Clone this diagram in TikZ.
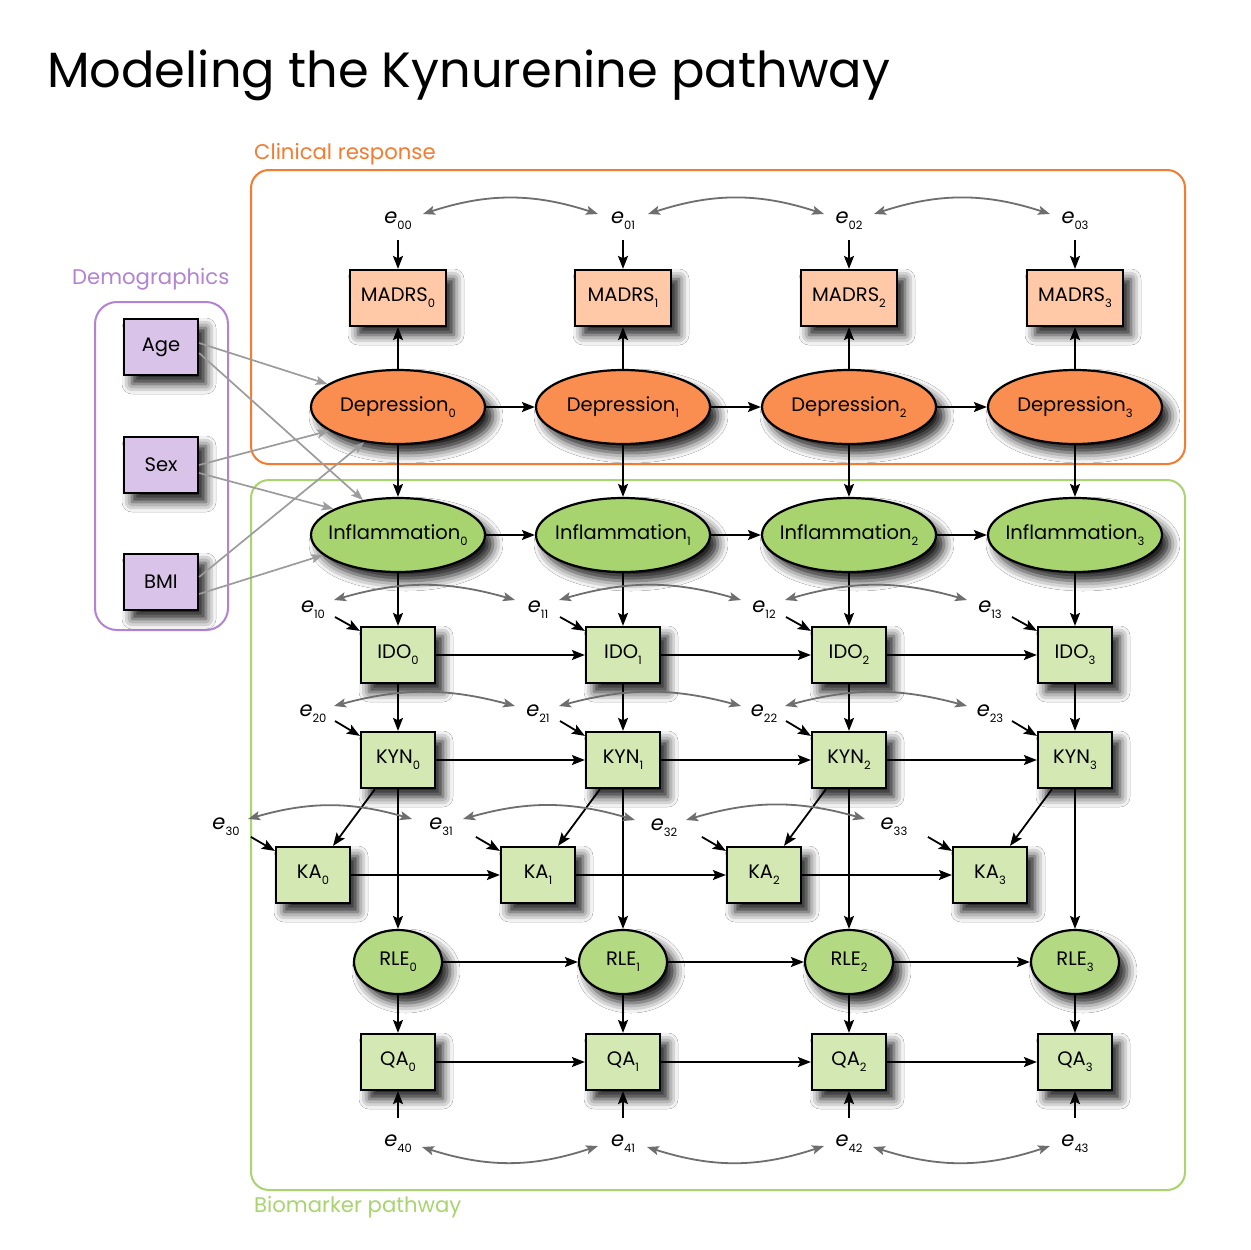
\documentclass[tikz,border=0pt]{standalone}
\usepackage{fontspec}
\setmainfont{Poppins}
\usetikzlibrary{shapes.geometric,shadows.blur,arrows.meta,calc}
\definecolor{madrsc}{HTML}{FFC8A6}
\definecolor{depc}{HTML}{FA8E50}
\definecolor{inflc}{HTML}{A8D46F}
\definecolor{rlec}{HTML}{B3D983}
\definecolor{bioc}{HTML}{D4E8B4}
\definecolor{democ}{HTML}{D9C3E9}
\definecolor{clinc}{HTML}{F47B2F}
\definecolor{biomc}{HTML}{A9D46F}
\definecolor{demfc}{HTML}{B283D3}
\definecolor{arcgray}{HTML}{6E6E6E}
\definecolor{demgray}{HTML}{9C9C9C}
\newcommand{\lsub}[1]{\raisebox{-0.55ex}{\fontsize{11.5}{11.5}\selectfont #1}}
\newcommand{\errl}[1]{{\fontsize{21}{21}\selectfont\textit{e}}\lsub{#1}}
\begin{document}
\begin{tikzpicture}[x=1pt,y=1pt,
  arr/.style={-{Stealth[length=13pt,width=10pt,inset=2.5pt]}, line width=1.8pt},
  garr/.style={{Stealth[length=12pt,width=9pt,inset=2.5pt]}-{Stealth[length=12pt,width=9pt,inset=2.5pt]}, line width=1.8pt, draw=arcgray},
  darr/.style={-{Stealth[length=12pt,width=9pt,inset=2.5pt]}, line width=1.7pt, draw=demgray},
  shad/.style={blur shadow={shadow xshift=8pt,shadow yshift=-9pt,shadow blur radius=10pt,shadow opacity=90}},
  sq/.style={rectangle, draw, line width=2.2pt, minimum width=74pt, minimum height=56pt, inner sep=0pt, shad, font=\fontsize{19.5}{19.5}\selectfont},
  madrs/.style={sq, minimum width=96pt, fill=madrsc},
  bio/.style={sq, fill=bioc},
  demo/.style={sq, fill=democ},
  ell/.style={ellipse, draw, line width=2.2pt, inner sep=0pt, shad, font=\fontsize{19.5}{19.5}\selectfont},
  dep/.style={ell, minimum width=174pt, minimum height=74pt, fill=depc},
  infl/.style={ell, minimum width=174pt, minimum height=74pt, fill=inflc},
  rle/.style={ell, minimum width=88pt, minimum height=64pt, fill=rlec},
  elab/.style={inner sep=0pt, font=\fontsize{19}{19}\selectfont},
  grplab/.style={anchor=base west, inner sep=0pt, font=\fontsize{21.2}{21.2}\selectfont}
]
\useasboundingbox (0,0) rectangle (1251,-1250);
\fill[white] (0,0) rectangle (1251,-1250);

% title
\node[anchor=base west, inner sep=0pt, font=\fontsize{49.5}{49.5}\selectfont] (title) at (47,-87) {Modeling the Kynurenine pathway};

% group frames
\draw[clinc, line width=2pt, rounded corners=18pt] (251,-170) rectangle (1185,-464);
\draw[biomc, line width=2pt, rounded corners=18pt] (251,-480) rectangle (1185,-1190);
\draw[demfc, line width=2pt, rounded corners=22pt] (95,-302) rectangle (228,-630);
\node[grplab, text=clinc] (lclin) at (254,-159) {Clinical response};
\node[grplab, text=biomc] (lbiom) at (254,-1212) {Biomarker pathway};
\node[grplab, text=demfc] (ldemo) at (72,-284) {Demographics};

% demographics
\node[demo] (Age) at (161,-347) {Age};
\node[demo] (Sex) at (161,-465) {Sex};
\node[demo] (BMI) at (161,-582) {BMI};

% main nodes
\foreach \i/\x/\k in {0/398/313,1/623/538,2/849/764,3/1075/990}{
  \node[madrs] (M\i) at (\x,-298) {MADRS\lsub{\i}};
  \node[dep] (D\i) at (\x,-407) {\makebox[0pt]{Depression\lsub{\i}}};
  \node[infl] (I\i) at (\x,-535) {\makebox[0pt]{Inflammation\lsub{\i}}};
  \node[bio] (IDO\i) at (\x,-655) {IDO\lsub{\i}};
  \node[bio] (KYN\i) at (\x,-760) {KYN\lsub{\i}};
  \node[bio] (KA\i) at (\k,-875) {KA\lsub{\i}};
  \node[rle] (R\i) at (\x,-962) {\makebox[0pt]{RLE\lsub{\i}}};
  \node[bio] (Q\i) at (\x,-1062) {QA\lsub{\i}};
  % error labels
  \node[elab] (e0\i) at (\x,-221) {\errl{0\i}};
  \node[elab] (e1\i) at (\x-85,-610) {\errl{1\i}};
  \node[elab] (e2\i) at (\x-85,-714) {\errl{2\i}};
  \node[elab] (e4\i) at (\x,-1144) {\errl{4\i}};
}
\node[elab] (e30) at (226,-827) {\errl{30}};
\node[elab] (e31) at (441,-827) {\errl{31}};
\node[elab] (e32) at (664,-828) {\errl{32}};
\node[elab] (e33) at (894,-827) {\errl{33}};

% vertical and diagonal connectors
\foreach \i in {0,...,3}{
  \draw[arr] (D\i) -- (M\i);
  \draw[arr] (D\i) -- (I\i);
  \draw[arr] (I\i) -- (IDO\i);
  \draw[arr] (IDO\i) -- (KYN\i);
  \draw[arr] ([xshift=-23pt]KYN\i.south) -- ([xshift=20pt]KA\i.north);
  \draw[arr] (KYN\i) -- (R\i);
  \draw[arr] (R\i) -- (Q\i);
  % error arrows
  \coordinate (s0\i) at ($(e0\i)+(0,-19)$);
  \draw[arr] (s0\i) -- (M\i);
  \coordinate (s1\i) at ($(e1\i)+(22,-7)$);
  \draw[arr] (s1\i) -- ([yshift=-5pt]IDO\i.north west);
  \coordinate (s2\i) at ($(e2\i)+(22,-7)$);
  \draw[arr] (s2\i) -- ([yshift=-5pt]KYN\i.north west);
  \coordinate (s3\i) at ($(KA\i.north west)+(-24,9)$);
  \draw[arr] (s3\i) -- ([yshift=-5pt]KA\i.north west);
  \coordinate (s4\i) at ($(e4\i)+(0,26)$);
  \draw[arr] (s4\i) -- (Q\i);
}

% horizontal connectors
\foreach \i/\j in {0/1,1/2,2/3}{
  \draw[arr] (D\i) -- (D\j);
  \draw[arr] (I\i) -- (I\j);
  \draw[arr] (IDO\i) -- (IDO\j);
  \draw[arr] (KYN\i) -- (KYN\j);
  \draw[arr] (KA\i) -- (KA\j);
  \draw[arr] (R\i) -- (R\j);
  \draw[arr] (Q\i) -- (Q\j);
  % covariance arcs
  \draw[garr] ($(e0\i)+(25,7)$) to[bend left=18] ($(e0\j)+(-25,7)$);
  \draw[garr] ($(e1\i)+(21,10)$) to[bend left=16] ($(e1\j)+(-23,10)$);
  \draw[garr] ($(e2\i)+(21,8)$) to[bend left=15] ($(e2\j)+(-23,8)$);
  \draw[garr] ($(e3\i)+(22,8)$) to[bend left=16] ($(e3\j)+(-29,8)$);
  \draw[garr] ($(e4\i)+(24,-3)$) to[bend right=18] ($(e4\j)+(-25,-2)$);
}

% demographic effects
\draw[darr] ([yshift=4pt]Age.east) -- (D0.162);
\draw[darr] ([yshift=-6pt]Age.east) -- (I0.135);
\draw[darr] (Sex.east) -- (D0.199);
\draw[darr] ([yshift=-8pt]Sex.east) -- (I0.158);
\draw[darr] ([yshift=5pt]BMI.east) -- (D0.226);
\draw[darr] ([yshift=-12pt]BMI.east) -- (I0.195);
\end{tikzpicture}
\end{document}
